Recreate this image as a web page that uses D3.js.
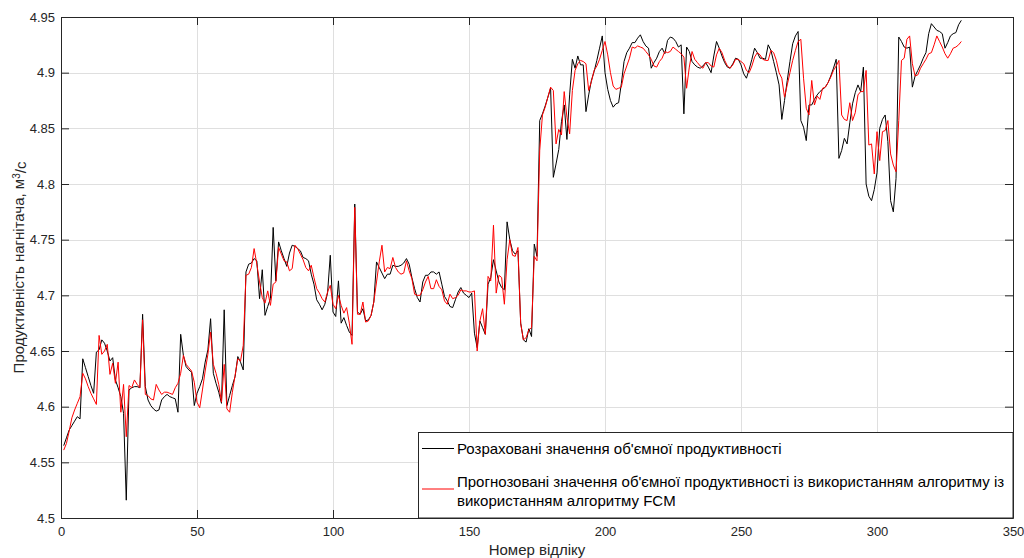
<!DOCTYPE html>
<html>
<head>
<meta charset="utf-8">
<script src="https://cdn.jsdelivr.net/npm/d3@7"></script>
<style>
  html, body { margin: 0; padding: 0; background: #fff; }
  svg { display: block; font-family: "Liberation Sans", Arial, sans-serif; }
</style>
</head>
<body>
<svg id="chart"></svg>
<script>
// розраховані значення (чорна лінія), відліки 1..331
const actual = [
  4.565, 4.572, 4.579, 4.583, 4.587, 4.591, 4.589, 4.643, 4.635, 4.627, 4.619, 4.612, 4.649, 4.651, 4.660,
  4.657, 4.650, 4.641, 4.644, 4.624, 4.617, 4.609, 4.594, 4.516, 4.615, 4.617, 4.618, 4.618, 4.617, 4.683,
  4.618, 4.606, 4.601, 4.598, 4.596, 4.597, 4.606, 4.609, 4.611, 4.609, 4.608, 4.607, 4.595, 4.665, 4.646,
  4.636, 4.633, 4.631, 4.601, 4.612, 4.618, 4.625, 4.640, 4.651, 4.679, 4.630, 4.621, 4.613, 4.603, 4.687,
  4.601, 4.610, 4.619, 4.627, 4.645, 4.640, 4.633, 4.721, 4.728, 4.729, 4.733, 4.731, 4.697, 4.723, 4.682,
  4.690, 4.697, 4.761, 4.713, 4.748, 4.740, 4.733, 4.726, 4.738, 4.745, 4.744, 4.742, 4.740, 4.734, 4.733,
  4.731, 4.719, 4.710, 4.696, 4.692, 4.687, 4.692, 4.702, 4.736, 4.685, 4.681, 4.713, 4.675, 4.680, 4.673,
  4.667, 4.664, 4.782, 4.685, 4.683, 4.688, 4.677, 4.678, 4.682, 4.694, 4.730, 4.725, 4.720, 4.715, 4.719,
  4.719, 4.727, 4.726, 4.726, 4.727, 4.729, 4.733, 4.728, 4.716, 4.706, 4.698, 4.694, 4.712, 4.718, 4.718,
  4.721, 4.721, 4.719, 4.721, 4.710, 4.699, 4.695, 4.690, 4.689, 4.696, 4.703, 4.707, 4.702, 4.700, 4.698,
  4.702, 4.666, 4.653, 4.677, 4.671, 4.665, 4.710, 4.716, 4.732, 4.722, 4.712, 4.707, 4.705, 4.766, 4.750,
  4.740, 4.737, 4.740, 4.675, 4.660, 4.658, 4.670, 4.663, 4.746, 4.735, 4.857, 4.863, 4.870, 4.878, 4.886,
  4.806, 4.818, 4.831, 4.856, 4.871, 4.840, 4.880, 4.912, 4.904, 4.915, 4.907, 4.907, 4.865, 4.880, 4.893,
  4.901, 4.911, 4.922, 4.933, 4.900, 4.885, 4.875, 4.869, 4.872, 4.873, 4.890, 4.910, 4.918, 4.922, 4.927,
  4.927, 4.931, 4.934, 4.928, 4.924, 4.922, 4.904, 4.909, 4.913, 4.919, 4.922, 4.917, 4.929, 4.932, 4.931,
  4.928, 4.923, 4.925, 4.863, 4.923, 4.919, 4.910, 4.907, 4.905, 4.904, 4.906, 4.909, 4.905, 4.900, 4.915,
  4.928, 4.922, 4.915, 4.909, 4.905, 4.904, 4.908, 4.913, 4.912, 4.907, 4.899, 4.895, 4.903, 4.912, 4.922,
  4.918, 4.913, 4.913, 4.912, 4.925, 4.920, 4.910, 4.900, 4.889, 4.858, 4.875, 4.893, 4.910, 4.926, 4.933,
  4.937, 4.857, 4.851, 4.839, 4.871, 4.871, 4.876, 4.880, 4.883, 4.885, 4.887, 4.891, 4.897, 4.904, 4.912,
  4.823, 4.830, 4.841, 4.836, 4.855, 4.872, 4.882, 4.889, 4.883, 4.905, 4.800, 4.789, 4.785, 4.795, 4.810,
  4.850, 4.858, 4.862, 4.838, 4.785, 4.775, 4.805, 4.932, 4.928, 4.923, 4.922, 4.923, 4.887, 4.897, 4.902,
  4.907, 4.913, 4.918, 4.935, 4.944, 4.941, 4.938, 4.937, 4.935, 4.922, 4.927, 4.933, 4.935, 4.936, 4.943,
  4.947
];

// прогнозовані значення FCM (червона лінія)
const predicted = [
  4.561, 4.567, 4.578, 4.590, 4.597, 4.603, 4.609, 4.630, 4.625, 4.618, 4.612, 4.607, 4.602, 4.664, 4.647,
  4.650, 4.656, 4.629, 4.639, 4.621, 4.640, 4.595, 4.620, 4.573, 4.619, 4.617, 4.624, 4.620, 4.617, 4.678,
  4.611, 4.610, 4.607, 4.606, 4.620, 4.615, 4.611, 4.613, 4.613, 4.612, 4.611, 4.617, 4.621, 4.630, 4.646,
  4.638, 4.635, 4.632, 4.622, 4.604, 4.599, 4.615, 4.632, 4.647, 4.667, 4.638, 4.630, 4.620, 4.604, 4.638,
  4.598, 4.595, 4.613, 4.628, 4.643, 4.641, 4.655, 4.718, 4.719, 4.725, 4.742, 4.728, 4.712, 4.698, 4.693,
  4.704, 4.691, 4.710, 4.712, 4.743, 4.737, 4.731, 4.730, 4.722, 4.724, 4.745, 4.742, 4.737, 4.732, 4.725,
  4.722, 4.727, 4.716, 4.706, 4.702, 4.697, 4.694, 4.703, 4.709, 4.692, 4.688, 4.700, 4.691, 4.684, 4.689,
  4.675, 4.656, 4.779, 4.683, 4.683, 4.694, 4.676, 4.677, 4.682, 4.694, 4.712, 4.730, 4.745, 4.721, 4.725,
  4.724, 4.734, 4.725, 4.721, 4.719, 4.720, 4.731, 4.722, 4.715, 4.701, 4.700, 4.700, 4.705, 4.712, 4.717,
  4.706, 4.706, 4.714, 4.708, 4.705, 4.695, 4.692, 4.701, 4.697, 4.698, 4.700, 4.705, 4.704, 4.704, 4.703,
  4.703, 4.704, 4.650, 4.677, 4.688, 4.665, 4.717, 4.713, 4.763, 4.702, 4.718, 4.716, 4.692, 4.732, 4.750,
  4.736, 4.735, 4.743, 4.675, 4.660, 4.662, 4.669, 4.671, 4.735, 4.731, 4.830, 4.862, 4.869, 4.878, 4.887,
  4.884, 4.836, 4.849, 4.844, 4.883, 4.860, 4.845, 4.884, 4.902, 4.908, 4.911, 4.910, 4.908, 4.884, 4.892,
  4.902, 4.906, 4.912, 4.920, 4.928, 4.916, 4.900, 4.888, 4.885, 4.886, 4.887, 4.899, 4.906, 4.913, 4.923,
  4.922, 4.924, 4.923, 4.922, 4.919, 4.916, 4.912, 4.906, 4.905, 4.910, 4.913, 4.919, 4.918, 4.919, 4.923,
  4.921, 4.919, 4.917, 4.914, 4.886, 4.905, 4.919, 4.912, 4.909, 4.906, 4.904, 4.909, 4.909, 4.906, 4.905,
  4.916, 4.922, 4.918, 4.911, 4.906, 4.904, 4.907, 4.912, 4.912, 4.910, 4.908, 4.902, 4.900, 4.906, 4.914,
  4.918, 4.916, 4.912, 4.911, 4.911, 4.920, 4.918, 4.911, 4.900, 4.895, 4.878, 4.889, 4.900, 4.911, 4.920,
  4.928, 4.930, 4.895, 4.868, 4.862, 4.893, 4.871, 4.879, 4.876, 4.886, 4.887, 4.891, 4.896, 4.902, 4.906,
  4.911, 4.862, 4.858, 4.857, 4.873, 4.857, 4.864, 4.880, 4.883, 4.883, 4.902, 4.835, 4.836, 4.809, 4.847,
  4.821, 4.847, 4.848, 4.857, 4.827, 4.817, 4.811, 4.857, 4.911, 4.913, 4.930, 4.933, 4.908, 4.897, 4.898,
  4.904, 4.908, 4.912, 4.917, 4.918, 4.925, 4.933, 4.928, 4.923, 4.917, 4.913, 4.917, 4.922, 4.923, 4.925,
  4.928
];

const xTicks = [0, 50, 100, 150, 200, 250, 300, 350];
const yTicks = [4.5, 4.55, 4.6, 4.65, 4.7, 4.75, 4.8, 4.85, 4.9, 4.95];
const seriesNames = [
  "Розраховані значення об'ємної продуктивності",
  "Прогнозовані значення об'ємної продуктивності із використанням алгоритму із",
  "використанням алгоритму FCM"
];

const width = 1024;
const height = 558;
const margin = { left: 61, right: 11, top: 17, bottom: 40 };

const svg = d3.select("#chart")
  .attr("width", width)
  .attr("height", height);

const x = d3.scaleLinear()
  .domain([0, 350])
  .range([margin.left, width - margin.right]);

const y = d3.scaleLinear()
  .domain([4.5, 4.95])
  .range([height - margin.bottom, margin.top]);

const sampleNo = d3.range(1, actual.length + 1);

// сітка
const grid = svg.append("g").attr("stroke", "#dfdfdf").attr("stroke-width", 1);
grid.selectAll(".gx").data(xTicks).enter().append("line")
  .attr("x1", d => Math.round(x(d)) + 0.5).attr("x2", d => Math.round(x(d)) + 0.5)
  .attr("y1", y(4.95)).attr("y2", y(4.5));
grid.selectAll(".gy").data(yTicks).enter().append("line")
  .attr("x1", x(0)).attr("x2", x(350))
  .attr("y1", d => Math.round(y(d)) + 0.5).attr("y2", d => Math.round(y(d)) + 0.5);

// лінії
const line = d3.line()
  .x((d, i) => x(sampleNo[i]))
  .y(d => y(d));

svg.append("path")
  .datum(actual)
  .attr("fill", "none")
  .attr("stroke", "#000")
  .attr("stroke-width", 1)
  .attr("d", line);

svg.append("path")
  .datum(predicted)
  .attr("fill", "none")
  .attr("stroke", "#ff0000")
  .attr("stroke-width", 1)
  .attr("d", line);

// осі
const axisColor = "#262626";
function styleAxis(g) {
  g.select(".domain").attr("stroke", axisColor);
  g.selectAll(".tick line").attr("stroke", axisColor);
  g.selectAll(".tick text").attr("fill", axisColor).style("font-size", "13px")
    .style("font-family", "'Liberation Sans', Arial, sans-serif");
}

svg.append("g")
  .attr("transform", `translate(0, ${y(4.5)})`)
  .call(d3.axisBottom(x).tickValues(xTicks).tickFormat(d3.format("d"))
    .tickSizeInner(-8).tickSizeOuter(0).tickPadding(9))
  .call(styleAxis);

svg.append("g")
  .attr("transform", `translate(${x(0)}, 0)`)
  .call(d3.axisLeft(y).tickValues(yTicks).tickFormat(d => String(d))
    .tickSizeInner(-8).tickSizeOuter(0).tickPadding(6))
  .call(styleAxis);

svg.append("g")
  .attr("transform", `translate(0, ${y(4.95)})`)
  .call(d3.axisTop(x).tickValues(xTicks).tickFormat("")
    .tickSizeInner(-8).tickSizeOuter(0))
  .call(styleAxis);

svg.append("g")
  .attr("transform", `translate(${x(350)}, 0)`)
  .call(d3.axisRight(y).tickValues(yTicks).tickFormat("")
    .tickSizeInner(-8).tickSizeOuter(0))
  .call(styleAxis);

// підписи осей
svg.append("text")
  .attr("x", (x(0) + x(350)) / 2)
  .attr("y", 555)
  .attr("text-anchor", "middle")
  .attr("fill", axisColor)
  .style("font-size", "15px")
  .text("Номер відліку");

const yLabel = svg.append("text")
  .attr("transform", `translate(24, ${(y(4.5) + y(4.95)) / 2}) rotate(-90)`)
  .attr("text-anchor", "middle")
  .attr("fill", axisColor)
  .style("font-size", "15px");
yLabel.append("tspan").text("Продуктивність нагнітача, м");
yLabel.append("tspan").attr("dy", "-0.45em").style("font-size", "10px").text("3");
yLabel.append("tspan").attr("dy", "0.45em").text("/с");

// легенда
const legendTop = 432;
const legend = svg.append("g").attr("transform", `translate(418, ${legendTop})`);
legend.append("rect")
  .attr("x", 0.5).attr("y", 0.5)
  .attr("width", x(350) - 418 - 0.5).attr("height", y(4.5) - legendTop - 0.5)
  .attr("fill", "#fff")
  .attr("stroke", axisColor);

const legendItems = [
  { color: "#000", lines: [seriesNames[0]], y: 16.5 },
  { color: "#ff0000", lines: [seriesNames[1], seriesNames[2]], y: 57 }
];

legendItems.forEach(item => {
  legend.append("line")
    .attr("x1", 4).attr("x2", 36)
    .attr("y1", item.y).attr("y2", item.y)
    .attr("stroke", item.color).attr("stroke-width", 1);
  const t = legend.append("text")
    .attr("y", item.lines.length > 1 ? item.y - 7.7 : item.y)
    .attr("fill", "#000")
    .style("font-size", "15px");
  item.lines.forEach((s, i) => {
    t.append("tspan").attr("x", 39).attr("dy", i === 0 ? "0.35em" : "19.4").text(s);
  });
});
</script>
</body>
</html>
